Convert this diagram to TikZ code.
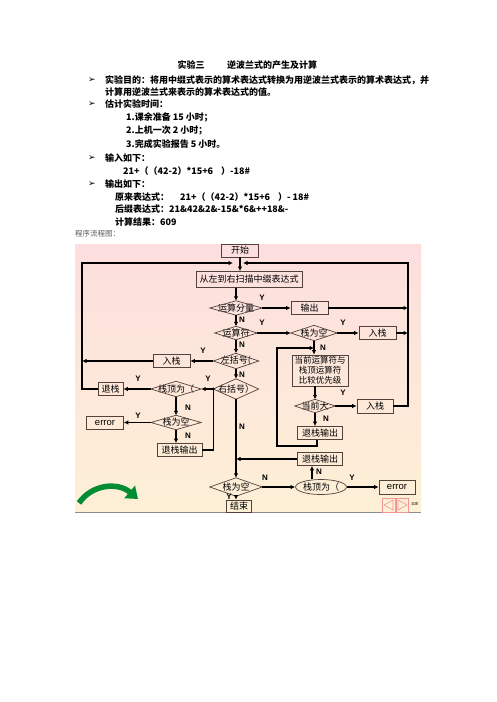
\documentclass[tikz,border=0pt]{standalone}
\usepackage{fontspec}
\setmainfont{Carlito}
\newfontfamily\cjk{Noto Sans CJK SC}
\newfontfamily\djv{DejaVu Sans}
\newfontfamily\lsans{Liberation Sans}
\usetikzlibrary{arrows.meta,shapes.geometric}
\definecolor{bgtop}{RGB}{252,222,222}
\definecolor{bgbot}{RGB}{253,240,214}
\definecolor{bord}{RGB}{85,65,60}
\definecolor{grn}{RGB}{0,140,50}
\definecolor{navpink}{RGB}{240,150,150}
\begin{document}
\begin{tikzpicture}[x=1pt,y=-1pt,
  txt/.style={anchor=west, inner sep=0, font=\cjk\bfseries\fontsize{9}{10}\selectfont},
  bul/.style={inner sep=0, font=\djv\fontsize{9}{10}\selectfont},
  capt/.style={anchor=west, inner sep=0, text=black!65, font=\cjk\fontsize{7.5}{9}\selectfont},
  bx/.style 2 args={draw=bord, line width=0.7pt, inner sep=0, minimum width=#1, minimum height=#2, font=\cjk\fontsize{9}{10}\selectfont},
  dm/.style 2 args={inner sep=0, minimum width=#1, minimum height=#2, font=\cjk\fontsize{9}{10}\selectfont},
  ell/.style={ellipse, draw=bord, line width=0.7pt, inner sep=0, minimum width=48, minimum height=15, font=\cjk\fontsize{9}{10}\selectfont},
  ar/.style={line width=1.5pt, -{Latex[length=4.5pt,width=4.5pt]}},
  ln/.style={line width=1.5pt},
  lab/.style={inner sep=0, font=\lsans\bfseries\fontsize{8}{9}\selectfont}]
\fill[white] (0,0) rectangle (496,702);
\useasboundingbox (0,0) rectangle (496,702);
% ---------- text ----------
\node[txt, anchor=center] (t1) at (191,65) {实验三};
\node[txt] (t2) at (227,65) {逆波兰式的产生及计算};
\node[bul] (b1) at (92,80) {➢};
\node[txt] (l1) at (105,80) {实验目的：将用中缀式表示的算术表达式转换为用逆波兰式表示的算术表达式，并};
\node[txt] (l2) at (105,92) {计算用逆波兰式来表示的算术表达式的值。};
\node[bul] (b2) at (92,104) {➢};
\node[txt] (l3) at (105,104) {估计实验时间：};
\node[txt] (l4) at (126,117) {1.课余准备 15 小时；};
\node[txt] (l5) at (126,130) {2.上机一次 2 小时；};
\node[txt] (l6) at (126,144) {3.完成实验报告 5 小时。};
\node[bul] (b3) at (92,158) {➢};
\node[txt] (l7) at (105,158) {输入如下：};
\node[txt] (l8) at (123,171) {21+（（42-2）*15+6\hspace{8pt}）-18\#};
\node[bul] (b4) at (92,184) {➢};
\node[txt] (l9) at (105,184) {输出如下：};
\node[txt] (l10) at (115,197) {原来表达式：};
\node[txt] (l11) at (180,197) {21+（（42-2）*15+6\hspace{8pt}）- 18\#};
\node[txt] (l12) at (115,209) {后缀表达式：21\&42\&2\&-15\&*6\&++18\&-};
\node[txt] (l13) at (115,222) {计算结果：609};
\node[capt] (l14) at (75,234) {程序流程图：};
% ---------- background ----------
\shade[top color=bgtop, bottom color=bgbot] (75,244) rectangle (421,511.5);
\draw[black!45, line width=0.8pt] (75,512) -- (421,512);
% ---------- nodes ----------
\node[bx={37}{13}] (start) at (240,250.5) {开始};
\node[bx={106}{16}] (scan) at (249,279.5) {从左到右扫描中缀表达式};
\node[dm={52}{14}] (d1) at (236,308) {运算分量};
\node[bx={37}{13}] (out) at (309.5,308) {输出};
\node[dm={42}{13}] (d2) at (236,333) {运算符};
\node[dm={46}{15}] (d3) at (314,333) {栈为空};
\node[bx={37}{13}] (push1) at (377.5,333) {入栈};
\node[bx={56}{31}, align=center, font=\cjk\fontsize{8.5}{10}\selectfont] (cmp) at (320,370.5) {当前运算符与\\栈顶运算符\\比较优先级};
\node[dm={40}{13}] (d4) at (315,406) {当前大};
\node[bx={36}{14}] (push2) at (375,406) {入栈};
\node[bx={45}{13}] (pop1) at (320,433) {退栈输出};
\node[bx={45}{13}] (pop2) at (320,459) {退栈输出};
\node[ell] (el) at (321,487) {栈顶为（};
\node[bx={36}{14}, font=\lsans\fontsize{9.5}{10}\selectfont] (err2) at (397,487) {error};
\node[dm={52}{18}] (d5) at (236,487) {栈为空};
\node[bx={25}{12}] (fin) at (239,506) {结束};
\node[dm={45}{15}] (dlb) at (236,361) {左括号(};
\node[bx={37}{13}] (push3) at (171.5,361) {入栈};
\node[dm={45}{20}] (drb) at (236,389) {右括号）};
\node[dm={50}{15}] (dtop) at (176,389) {栈顶为（};
\node[bx={25}{13}] (pop3) at (110.5,389) {退栈};
\node[dm={50}{14}] (de) at (176,422.5) {栈为空};
\node[bx={37}{13}, font=\lsans\fontsize{9.5}{10}\selectfont] (err1) at (105,422.5) {error};
\node[bx={45}{13}] (pop4) at (179.5,450) {退栈输出};
\foreach \n in {d1,d2,d3,d4,d5,dlb,drb,dtop,de}
  \draw[bord, line width=0.7pt] (\n.west) -- (\n.north) -- (\n.east) -- (\n.south) -- cycle;
% ---------- connectors ----------
\coordinate (J) at (240,263);
\coordinate (rt) at (408,263);
\coordinate (lt) at (82,263);
\coordinate (lb) at (277,446);
\coordinate (lp) at (277,348);
\draw[ar] (start.south) -- (start.south |- scan.north);
\draw[ar] (d1.north |- scan.south) -- (d1.north);
\draw[ar] (d1.east) -- (out.west);
\draw[ar] (d1.south) -- (d2.north);
\draw[ar] (d2.east) -- (d3.west);
\draw[ar] (d3.east) -- (push1.west);
\draw[ar] (d2.south) -- (dlb.north);
\draw[ar] (dlb.south) -- (drb.north);
\draw[ar] (drb.south) -- (d5.north);
\draw[ar] (d5.south) -- (d5.south |- fin.north);
\draw[ar] (d5.east) -- (el.west);
\draw[ar] (el.east) -- (err2.west);
\draw[ar] ([xshift=-9pt]el.north) -- ([xshift=-9pt]el.north |- pop2.south);
\draw[ar] (pop2.west) -- (pop2.west -| d5.north);
\draw[ar] (d3.south) -- (d3.south |- cmp.north);
\draw[ar] (d4.north |- cmp.south) -- (d4.north);
\draw[ar] (d4.east) -- (push2.west);
\draw[ar] (d4.south) -- (d4.south |- pop1.north);
\draw[ar] (push2.east) -| (rt) -- ([xshift=3pt]J);
\draw[ar] (out.east) -- (out.east -| rt);
\draw[ar] (push1.east) -- (push1.east -| rt);
\draw[ar] (pop3.west) -| (lt) -- ([xshift=-7pt]J);
\draw[ar] (dlb.west) -- (push3.east);
\draw[ar] (push3.west) -- (push3.west -| lt);
\draw[ar] (drb.west) -- (dtop.east);
\draw[ln] (pop4.east) -| (drb.west);
\fill (drb.west) circle (1.6);
\draw[ar] (dtop.west) -- (pop3.east);
\draw[ar] (dtop.south) -- (de.north);
\draw[ar] (de.west) -- (err1.east);
\draw[ar] (de.south) -- (de.south |- pop4.north);
\draw[ar] ([xshift=-3pt]pop1.south) |- (lb) -- (lp) -- (lp -| d3.south);
% ---------- labels ----------
\node[lab] (y1) at (262,298) {Y};
\node[lab] (n1) at (242,320) {N};
\node[lab] (y2) at (262,323) {Y};
\node[lab] (n2) at (242,345) {N};
\node[lab] (y3) at (203,351) {Y};
\node[lab] (n3) at (242,375) {N};
\node[lab] (y4) at (208,379) {Y};
\node[lab] (y5) at (138,379) {Y};
\node[lab] (n4) at (188,408) {N};
\node[lab] (y6) at (138,416) {Y};
\node[lab] (n5) at (188,436) {N};
\node[lab] (n6) at (242,427) {N};
\node[lab] (y7) at (343,323) {Y};
\node[lab] (n7) at (323,348) {N};
\node[lab] (y8) at (343,393) {Y};
\node[lab] (n8) at (326,419) {N};
\node[lab] (n9) at (265,478) {N};
\node[lab] (y9) at (229,497) {Y};
\node[lab] (n10) at (319,472) {N};
\node[lab] (y10) at (352,478) {Y};
% ---------- decorations ----------
\draw[grn, line width=5.5pt, -{Triangle[length=11pt,width=16pt]}] (79,503) .. controls (92,484) and (118,482) .. (138,499);
\draw[navpink, line width=0.6pt] (382,498) rectangle (395,512);
\draw[navpink, line width=0.6pt] (393,500) -- (384,505) -- (393,510) -- cycle;
\draw[navpink, line width=0.6pt] (396,498) rectangle (408,512);
\draw[navpink, line width=0.6pt] (398,500) -- (407,505) -- (398,510) -- cycle;
\node[inner sep=0, font=\fontsize{4.5}{5}\selectfont] (pg) at (414.5,504) {108};
\end{tikzpicture}
\end{document}
